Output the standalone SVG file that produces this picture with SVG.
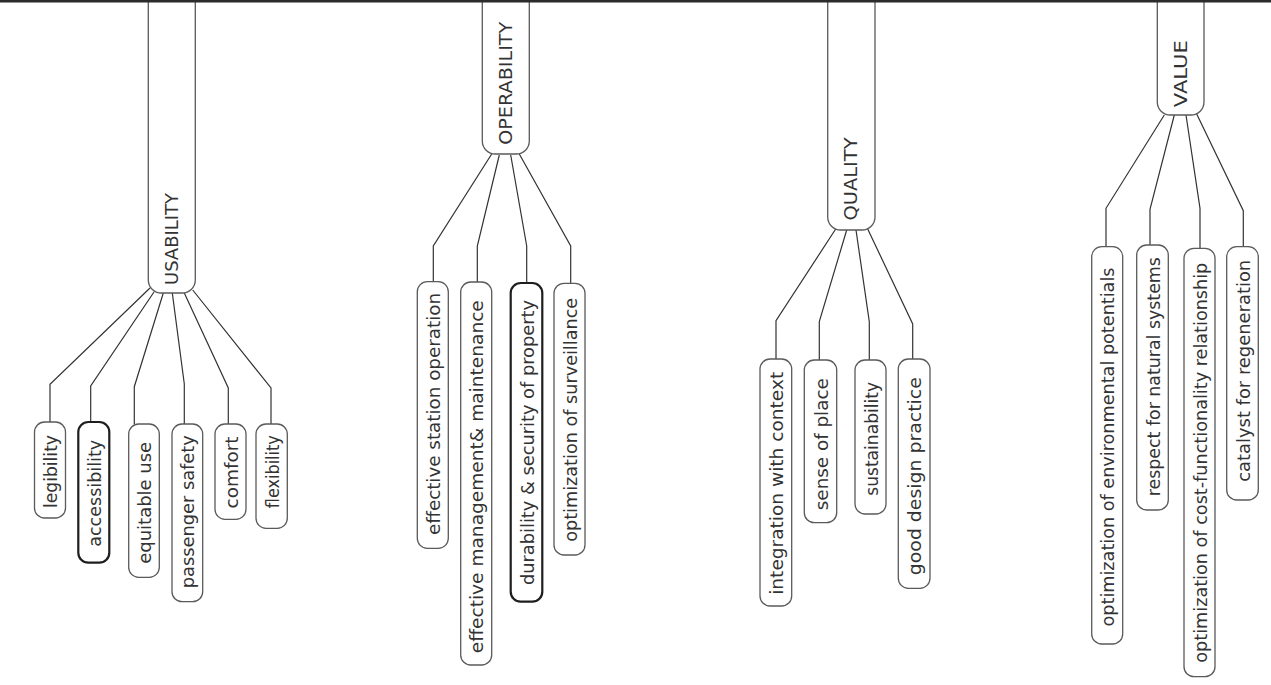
<svg xmlns="http://www.w3.org/2000/svg" width="1271" height="685" viewBox="0 0 1271 685">
<style>
.bg{fill:#ffffff}
.cat{fill:#ffffff;stroke:#5a5a5a;stroke-width:1.3}
.leaf{fill:#ffffff;stroke:#5a5a5a;stroke-width:1.3}
.bold{fill:#ffffff;stroke:#1e1e1e;stroke-width:2.2}
.conn{fill:none;stroke:#333333;stroke-width:1.2}
.ct{font-family:"DejaVu Sans",sans-serif;font-size:18px;fill:#333333;text-anchor:middle}
.lt{font-family:"DejaVu Sans",sans-serif;font-size:17px;fill:#333333;text-anchor:middle}
</style>
<rect class="bg" x="0" y="0" width="1271" height="685"/>

<g id="connectors">
<polyline class="conn" points="150,288 50,384.3 50,422"/>
<polyline class="conn" points="154,292 90.7,386 90.7,422"/>
<polyline class="conn" points="163.3,293 134.3,386.7 134.3,424"/>
<polyline class="conn" points="172.3,293 184.3,384 184.3,424"/>
<polyline class="conn" points="184.3,293 228.3,388 228.3,424"/>
<polyline class="conn" points="192.7,290 271,388 271,424"/>

<polyline class="conn" points="491.7,154 433.3,246 433.3,281.7"/>
<polyline class="conn" points="499.3,155 477.3,246 477.3,282"/>
<polyline class="conn" points="510.7,155 526.7,246 526.7,283"/>
<polyline class="conn" points="519.3,154 570.7,246 570.7,283"/>

<polyline class="conn" points="835.7,229 776,320.7 776,359"/>
<polyline class="conn" points="846.7,230 819.3,321.7 819.3,360"/>
<polyline class="conn" points="856,230 869.3,321.7 869.3,360"/>
<polyline class="conn" points="867.7,229 912.7,324 912.7,359"/>

<polyline class="conn" points="1164.3,115 1106,208.3 1106,246.7"/>
<polyline class="conn" points="1174.3,115 1150,209.3 1150,245"/>
<polyline class="conn" points="1186,115 1200,208.3 1200,248.3"/>
<polyline class="conn" points="1196.7,114 1243.3,210.7 1243.3,246.7"/>
</g>

<g id="usability">
<rect class="cat" x="148.3" y="-20" width="47" height="313" rx="13"/>
<text class="ct" transform="translate(171.8,239) rotate(-90)" x="0" y="6" textLength="92" lengthAdjust="spacingAndGlyphs">USABILITY</text>
</g>
<g id="operability">
<rect class="cat" x="482.3" y="-20" width="47" height="174" rx="13"/>
<text class="ct" transform="translate(505.8,83.3) rotate(-90)" x="0" y="6" textLength="123" lengthAdjust="spacingAndGlyphs">OPERABILITY</text>
</g>
<g id="quality">
<rect class="cat" x="827.7" y="-20" width="47.3" height="250" rx="13"/>
<text class="ct" transform="translate(851.3,179) rotate(-90)" x="0" y="6" textLength="83" lengthAdjust="spacingAndGlyphs">QUALITY</text>
</g>
<g id="value">
<rect class="cat" x="1157.3" y="-20" width="46.7" height="135" rx="13"/>
<text class="ct" transform="translate(1180.7,73.7) rotate(-90)" x="0" y="6" textLength="67" lengthAdjust="spacingAndGlyphs">VALUE</text>
</g>

<g id="leaf-legibility">
<rect class="leaf" x="34.5" y="422" width="31" height="96" rx="10"/>
<text class="lt" transform="translate(50,471.5) rotate(-90)" x="0" y="7" textLength="73" lengthAdjust="spacingAndGlyphs">legibility</text>
</g>
<g id="leaf-accessibility">
<rect class="bold" x="78.3" y="422" width="31" height="140.7" rx="10"/>
<text class="lt" transform="translate(93.8,493.3) rotate(-90)" x="0" y="7" textLength="107" lengthAdjust="spacingAndGlyphs">accessibility</text>
</g>
<g id="leaf-equitable">
<rect class="leaf" x="128.7" y="424" width="30.6" height="153.3" rx="10"/>
<text class="lt" transform="translate(144,502.8) rotate(-90)" x="0" y="7" textLength="122" lengthAdjust="spacingAndGlyphs">equitable use</text>
</g>
<g id="leaf-passenger">
<rect class="leaf" x="172" y="424" width="30.7" height="177.7" rx="10"/>
<text class="lt" transform="translate(187.3,511.7) rotate(-90)" x="0" y="7" textLength="153" lengthAdjust="spacingAndGlyphs">passenger safety</text>
</g>
<g id="leaf-comfort">
<rect class="leaf" x="215" y="424" width="31" height="95.3" rx="10"/>
<text class="lt" transform="translate(230.5,472.5) rotate(-90)" x="0" y="7" textLength="72" lengthAdjust="spacingAndGlyphs">comfort</text>
</g>
<g id="leaf-flexibility">
<rect class="leaf" x="256" y="424" width="31.3" height="104.3" rx="10"/>
<text class="lt" transform="translate(271.6,471.7) rotate(-90)" x="0" y="7" textLength="73" lengthAdjust="spacingAndGlyphs">flexibility</text>
</g>

<g id="leaf-station">
<rect class="leaf" x="417.3" y="281.7" width="31" height="266.6" rx="10"/>
<text class="lt" transform="translate(432.8,414) rotate(-90)" x="0" y="7" textLength="242" lengthAdjust="spacingAndGlyphs">effective station operation</text>
</g>
<g id="leaf-management">
<rect class="leaf" x="460.7" y="282" width="31" height="383" rx="10"/>
<text class="lt" transform="translate(476.2,476.7) rotate(-90)" x="0" y="7" textLength="353" lengthAdjust="spacingAndGlyphs">effective management&amp; maintenance</text>
</g>
<g id="leaf-durability">
<rect class="bold" x="510.7" y="283" width="31.6" height="318.7" rx="10"/>
<text class="lt" transform="translate(526.5,442.5) rotate(-90)" x="0" y="7" textLength="285" lengthAdjust="spacingAndGlyphs">durability &amp; security of property</text>
</g>
<g id="leaf-surveillance">
<rect class="leaf" x="554" y="283.3" width="31" height="271.7" rx="10"/>
<text class="lt" transform="translate(569.5,419.8) rotate(-90)" x="0" y="7" textLength="244" lengthAdjust="spacingAndGlyphs">optimization of surveillance</text>
</g>

<g id="leaf-integration">
<rect class="leaf" x="760" y="359" width="31.7" height="247" rx="10"/>
<text class="lt" transform="translate(775.8,483.3) rotate(-90)" x="0" y="7" textLength="223" lengthAdjust="spacingAndGlyphs">integration with context</text>
</g>
<g id="leaf-sense">
<rect class="leaf" x="804.3" y="360" width="32.4" height="162.7" rx="10"/>
<text class="lt" transform="translate(820.5,444.2) rotate(-90)" x="0" y="7" textLength="132" lengthAdjust="spacingAndGlyphs">sense of place</text>
</g>
<g id="leaf-sustainability">
<rect class="leaf" x="855" y="360" width="31" height="154" rx="10"/>
<text class="lt" transform="translate(870.5,438.8) rotate(-90)" x="0" y="7" textLength="114" lengthAdjust="spacingAndGlyphs">sustainability</text>
</g>
<g id="leaf-gooddesign">
<rect class="leaf" x="898.3" y="359" width="31.7" height="229.3" rx="10"/>
<text class="lt" transform="translate(914.2,476.2) rotate(-90)" x="0" y="7" textLength="198" lengthAdjust="spacingAndGlyphs">good design practice</text>
</g>

<g id="leaf-environmental">
<rect class="leaf" x="1091.7" y="246.7" width="31" height="397.3" rx="10"/>
<text class="lt" transform="translate(1107.2,447) rotate(-90)" x="0" y="7" textLength="359" lengthAdjust="spacingAndGlyphs">optimization of environmental potentials</text>
</g>
<g id="leaf-natural">
<rect class="leaf" x="1136.7" y="245" width="31.6" height="265" rx="10"/>
<text class="lt" transform="translate(1152.5,376.7) rotate(-90)" x="0" y="7" textLength="239" lengthAdjust="spacingAndGlyphs">respect for natural systems</text>
</g>
<g id="leaf-costfunction">
<rect class="leaf" x="1184" y="248.3" width="31" height="428.4" rx="10"/>
<text class="lt" transform="translate(1199.5,462.7) rotate(-90)" x="0" y="7" textLength="400" lengthAdjust="spacingAndGlyphs">optimization of cost-functionality relationship</text>
</g>
<g id="leaf-catalyst">
<rect class="leaf" x="1226.7" y="246.7" width="31.6" height="253.3" rx="10"/>
<text class="lt" transform="translate(1242.5,370.8) rotate(-90)" x="0" y="7" textLength="222" lengthAdjust="spacingAndGlyphs">catalyst for regeneration</text>
</g>

<g id="topbar">
<rect x="0" y="0" width="1271" height="2.5" fill="#2b2b2b"/>
</g>
</svg>
